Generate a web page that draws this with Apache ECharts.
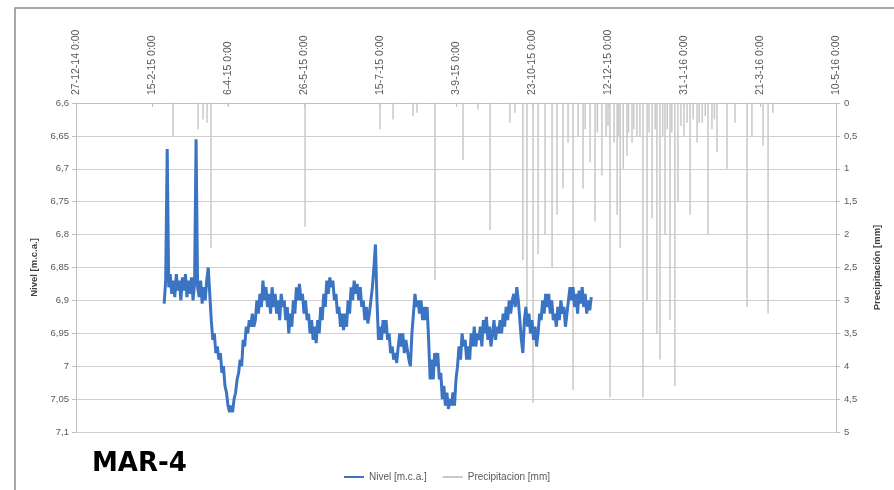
<!DOCTYPE html>
<html>
<head>
<meta charset="utf-8">
<title>MAR-4</title>
<script src="https://cdn.jsdelivr.net/npm/echarts@6/dist/echarts.min.js"></script>
<style>
  html, body { margin: 0; padding: 0; background: #fff; }
  #chart { width: 894px; height: 490px; }
</style>
</head>
<body>
<div id="chart"></div>
<script>
// x values are days counted from 27-12-14 0:00
var origin = Date.UTC(2014, 11, 27);
var xTicks = [0, 50, 100, 150, 200, 250, 300, 350, 400, 450, 500];

// Nivel [m.c.a.] : one reading per day, first reading on day 58
var nivelFirstDay = 58;
var nivel = [
  6.905, 6.87, 6.67, 6.88, 6.86, 6.89, 6.87, 6.895, 6.86, 6.885,
  6.87, 6.90, 6.865, 6.885, 6.86, 6.895, 6.87, 6.89, 6.865, 6.90,
  6.875, 6.655, 6.88, 6.895, 6.87, 6.905, 6.88, 6.90, 6.87, 6.85,
  6.89, 6.93, 6.96, 6.95, 6.98, 6.97, 6.99, 6.98, 7.01, 7.00,
  7.03, 7.04, 7.06, 7.07, 7.06, 7.07, 7.05, 7.04, 7.02, 7.01,
  6.99, 7.00, 6.96, 6.97, 6.94, 6.95, 6.93, 6.94, 6.92, 6.94,
  6.93, 6.90, 6.92, 6.89, 6.91, 6.87, 6.90, 6.88, 6.91, 6.89,
  6.92, 6.88, 6.91, 6.89, 6.92, 6.90, 6.93, 6.89, 6.91, 6.90,
  6.93, 6.91, 6.95, 6.92, 6.94, 6.90, 6.92, 6.88, 6.90, 6.875,
  6.90, 6.89, 6.92, 6.90, 6.93, 6.92, 6.95, 6.93, 6.96, 6.94,
  6.965, 6.93, 6.95, 6.91, 6.93, 6.89, 6.91, 6.87, 6.89, 6.865,
  6.88, 6.87, 6.90, 6.89, 6.92, 6.91, 6.94, 6.92, 6.945, 6.92,
  6.94, 6.90, 6.92, 6.88, 6.90, 6.87, 6.89, 6.875, 6.90, 6.88,
  6.91, 6.90, 6.93, 6.91, 6.935, 6.92, 6.90, 6.88, 6.85, 6.815,
  6.90, 6.96, 6.94, 6.96, 6.93, 6.95, 6.93, 6.96, 6.95, 6.98,
  6.97, 6.99, 6.98, 6.995, 6.97, 6.95, 6.97, 6.95, 6.98, 6.96,
  6.96, 6.99, 7.00, 6.95, 6.92, 6.89, 6.91, 6.90, 6.92, 6.90,
  6.93, 6.91, 6.93, 6.91, 6.96, 7.02, 6.99, 7.02, 6.98, 7.00,
  6.98, 7.02, 7.01, 7.05, 7.03, 7.06, 7.04, 7.065, 7.05, 7.06,
  7.04, 7.06, 7.02, 7.00, 6.97, 6.99, 6.95, 6.97, 6.96, 6.99,
  6.97, 6.99, 6.95, 6.97, 6.94, 6.97, 6.95, 6.96, 6.94, 6.97,
  6.93, 6.95, 6.925, 6.96, 6.94, 6.97, 6.95, 6.93, 6.96, 6.94,
  6.95, 6.93, 6.95, 6.92, 6.94, 6.91, 6.93, 6.90, 6.92, 6.90,
  6.89, 6.91, 6.88, 6.90, 6.93, 6.96, 6.98, 6.93, 6.91, 6.94,
  6.92, 6.95, 6.93, 6.96, 6.94, 6.97, 6.95, 6.92, 6.93, 6.90,
  6.92, 6.89, 6.91, 6.89, 6.92, 6.90, 6.93, 6.92, 6.94, 6.91,
  6.93, 6.90, 6.92, 6.91, 6.94, 6.92, 6.90, 6.88, 6.90, 6.88,
  6.91, 6.89, 6.92, 6.885, 6.905, 6.88, 6.91, 6.89, 6.92, 6.90, 6.915, 6.895
];

// Precipitacion [mm] : days with rain
var precipDays = [
  63.8, 80.3, 83.6, 86.2, 88.8, 100, 150.7, 200, 208.6, 221.7,
  224.3, 236.2, 254.6, 264.5, 272.4, 285.5, 288.8, 294, 296.7, 300.7,
  304, 308.6, 313.2, 316.5, 320.4, 323.7, 327, 330.3, 333.6, 335,
  338.2, 341.5, 343, 346, 348.7, 350, 351.3, 354, 356, 357,
  358, 360, 362.5, 363.5, 365.8, 367, 369, 371, 373, 375.7,
  377, 379, 381, 382.2, 384.2, 386, 387.5, 389, 390.8, 392,
  394, 396, 398, 400, 402, 404, 406, 408.6, 410, 412,
  414, 415.8, 418.4, 420, 421.7, 428.3, 433.6, 441.5, 444.7, 452,
  455.3, 458.5
];
var precipValues = [
  0.5, 0.4, 0.25, 0.3, 2.2, 0.05, 1.88, 0.4, 0.25, 0.2,
  0.15, 2.69, 0.87, 0.1, 1.93, 0.3, 0.15, 2.39, 3.1, 4.56,
  2.3, 2.0, 2.5, 1.7, 1.3, 0.6, 4.36, 0.5, 1.3, 0.4,
  0.9, 1.8, 0.45, 1.1, 0.5, 0.35, 4.47, 0.6, 1.7, 0.5,
  2.2, 1.0, 0.8, 0.45, 0.6, 0.4, 0.5, 0.5, 4.47, 3.0,
  0.45, 1.75, 0.4, 3.5, 3.9, 0.5, 2.0, 0.4, 3.3, 0.45,
  4.3, 1.5, 0.35, 0.5, 0.3, 1.7, 0.25, 0.6, 0.3, 0.3,
  0.2, 2.0, 0.4, 0.25, 0.75, 1.0, 0.3, 3.1, 0.5, 0.65,
  3.2, 0.15
];

var nivelData = nivel.map(function (v, i) { return [nivelFirstDay + i, v]; });
var precipData = precipDays.map(function (d, i) { return [d, precipValues[i]]; });

function comma(v) {
  return String(Math.round(v * 100) / 100).replace('.', ',');
}
function dayLabel(d) {
  var t = new Date(origin + d * 86400000);
  return t.getUTCDate() + '-' + (t.getUTCMonth() + 1) + '-' + String(t.getUTCFullYear()).slice(2) + ' 0:00';
}

var font = '"Liberation Sans", sans-serif';
var chart = echarts.init(document.getElementById('chart'));
chart.setOption({
  animation: false,
  textStyle: { fontFamily: font },
  title: {
    text: 'MAR-4',
    left: 87,
    top: 446,
    textStyle: { fontSize: 26, fontWeight: 'bold', color: '#000', fontFamily: '"DejaVu Sans", sans-serif' }
  },
  legend: {
    bottom: 3,
    left: 'center',
    itemWidth: 20,
    itemHeight: 2,
    itemGap: 16,
    icon: 'rect',
    data: ['Nivel [m.c.a.]', 'Precipitacion [mm]'],
    textStyle: { fontSize: 10, color: '#595959', fontFamily: font }
  },
  graphic: [{
    type: 'rect',
    shape: { x: 15, y: 8, width: 900, height: 500 },
    style: { fill: 'none', stroke: '#8c8c8c', lineWidth: 1.5 },
    silent: true
  }],
  grid: { left: 76, right: 58, top: 103, bottom: 58 },
  xAxis: {
    type: 'value',
    position: 'top',
    min: xTicks[0],
    max: xTicks[xTicks.length - 1],
    interval: 50,
    axisLine: { lineStyle: { color: '#bfbfbf' } },
    axisTick: { show: true, inside: true, length: 4, lineStyle: { color: '#bfbfbf' } },
    splitLine: { show: false },
    axisLabel: {
      rotate: 90,
      margin: 8,
      fontSize: 10.5,
      color: '#595959',
      formatter: dayLabel
    }
  },
  yAxis: [{
    type: 'value',
    inverse: true,
    min: 6.6,
    max: 7.1,
    interval: 0.05,
    name: 'Nivel [m.c.a.]',
    nameLocation: 'middle',
    nameGap: 37,
    nameTextStyle: { fontSize: 9.5, fontWeight: 'bold', color: '#404040' },
    axisLine: { show: true, lineStyle: { color: '#bfbfbf' } },
    axisTick: { show: true, length: 4, lineStyle: { color: '#bfbfbf' } },
    splitLine: { show: true, lineStyle: { color: '#d0d0d0' } },
    axisLabel: { fontSize: 9.5, color: '#595959', margin: 7, formatter: comma }
  }, {
    type: 'value',
    inverse: true,
    min: 0,
    max: 5,
    interval: 0.5,
    name: 'Precipitación [mm]',
    nameLocation: 'middle',
    nameGap: 36,
    nameRotate: 90,
    nameTextStyle: { fontSize: 9.5, fontWeight: 'bold', color: '#404040' },
    axisLine: { show: true, lineStyle: { color: '#bfbfbf' } },
    axisTick: { show: true, length: 4, lineStyle: { color: '#bfbfbf' } },
    splitLine: { show: false },
    axisLabel: { fontSize: 9.5, color: '#595959', margin: 8, formatter: comma }
  }],
  series: [{
    name: 'Precipitacion [mm]',
    type: 'bar',
    yAxisIndex: 1,
    barWidth: 1.5,
    itemStyle: { color: '#c8c8c8' },
    data: precipData
  }, {
    name: 'Nivel [m.c.a.]',
    type: 'line',
    yAxisIndex: 0,
    showSymbol: false,
    symbol: 'none',
    lineStyle: { color: '#3b74c2', width: 3 },
    itemStyle: { color: '#3b74c2' },
    data: nivelData
  }]
});
</script>
</body>
</html>
